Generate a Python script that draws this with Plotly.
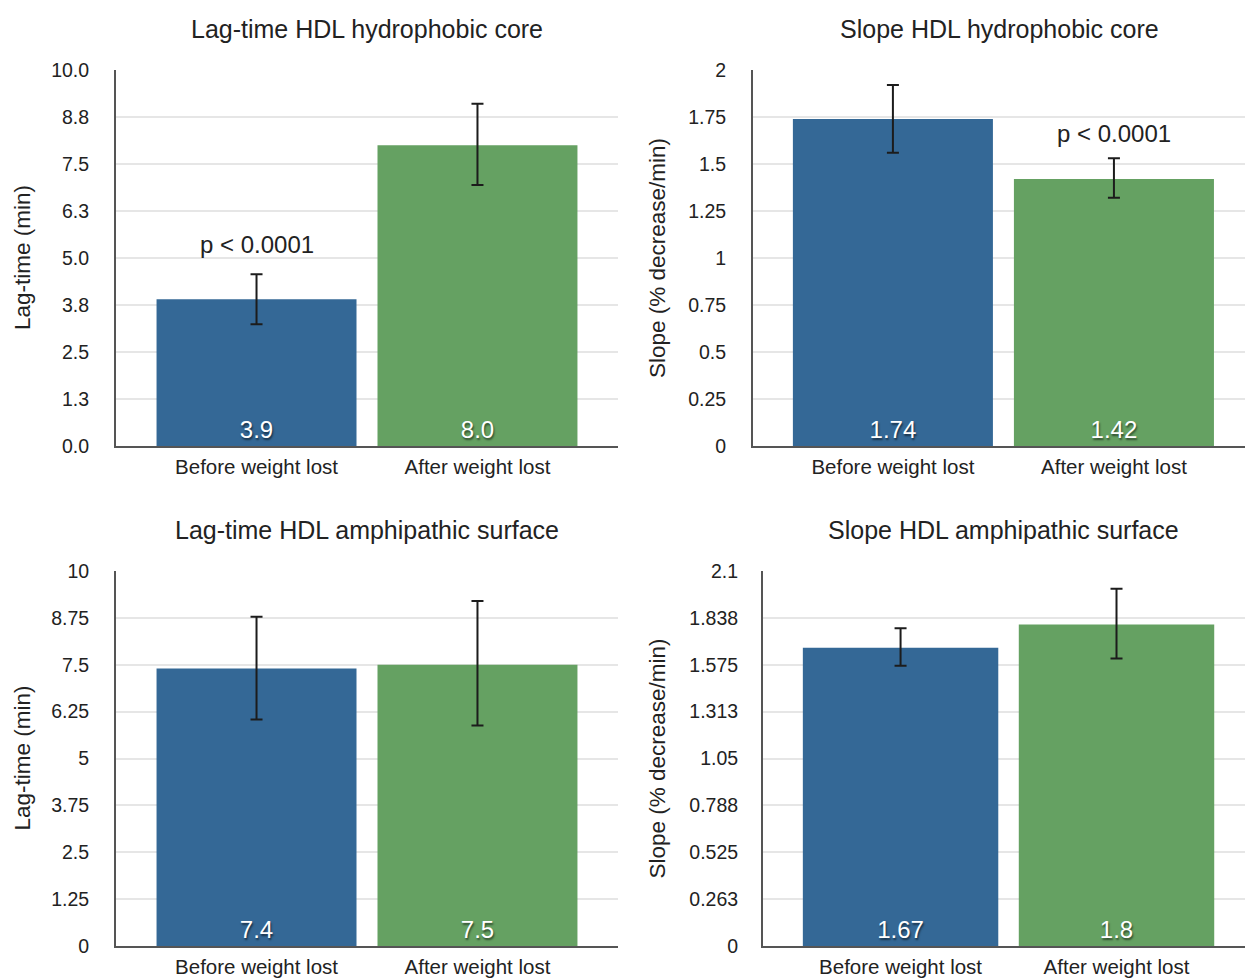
import plotly.graph_objects as go

W, H = 1245, 979

categories = ["Before weight lost", "After weight lost"]
colors_bar = ["#346896", "#65a162"]

titles = ["Lag-time HDL hydrophobic core", "Slope HDL hydrophobic core",
          "Lag-time HDL amphipathic surface", "Slope HDL amphipathic surface"]
ytitles = ["Lag-time (min)", "Slope (% decrease/min)",
           "Lag-time (min)", "Slope (% decrease/min)"]

lag_core = [3.9, 8.0]
lag_core_err_plus = [0.67, 1.1]
lag_core_err_minus = [0.66, 1.06]
lag_core_labels = ["3.9", "8.0"]

slope_core = [1.74, 1.42]
slope_core_err_plus = [0.18, 0.11]
slope_core_err_minus = [0.18, 0.10]
slope_core_labels = ["1.74", "1.42"]

lag_surf = [7.4, 7.5]
lag_surf_err_plus = [1.38, 1.7]
lag_surf_err_minus = [1.36, 1.62]
lag_surf_labels = ["7.4", "7.5"]

slope_surf = [1.67, 1.8]
slope_surf_err_plus = [0.11, 0.2]
slope_surf_err_minus = [0.1, 0.19]
slope_surf_labels = ["1.67", "1.8"]

ticks_lag_core = [0, 1.25, 2.5, 3.75, 5, 6.25, 7.5, 8.75, 10]
ticktext_lag_core = ["0.0", "1.3", "2.5", "3.8", "5.0", "6.3", "7.5", "8.8", "10.0"]
ticks_slope_core = [0, 0.25, 0.5, 0.75, 1, 1.25, 1.5, 1.75, 2]
ticktext_slope_core = ["0", "0.25", "0.5", "0.75", "1", "1.25", "1.5", "1.75", "2"]
ticks_lag_surf = [0, 1.25, 2.5, 3.75, 5, 6.25, 7.5, 8.75, 10]
ticktext_lag_surf = ["0", "1.25", "2.5", "3.75", "5", "6.25", "7.5", "8.75", "10"]
ticks_slope_surf = [0, 0.2625, 0.525, 0.7875, 1.05, 1.3125, 1.575, 1.8375, 2.1]
ticktext_slope_surf = ["0", "0.263", "0.525", "0.788", "1.05", "1.313", "1.575", "1.838", "2.1"]

pvalue_text = "p < 0.0001"

panels = [
    dict(v=lag_core, ep=lag_core_err_plus, em=lag_core_err_minus, lab=lag_core_labels,
         tv=ticks_lag_core, tt=ticktext_lag_core, yr=[0, 10],
         px=(116, 618), py=(70, 446), xr=[-0.636, 1.636], tl=21),
    dict(v=slope_core, ep=slope_core_err_plus, em=slope_core_err_minus, lab=slope_core_labels,
         tv=ticks_slope_core, tt=ticktext_slope_core, yr=[0, 2],
         px=(753, 1245), py=(70, 446), xr=[-0.633, 1.593], tl=21),
    dict(v=lag_surf, ep=lag_surf_err_plus, em=lag_surf_err_minus, lab=lag_surf_labels,
         tv=ticks_lag_surf, tt=ticktext_lag_surf, yr=[0, 10],
         px=(116, 618), py=(571, 946), xr=[-0.636, 1.636], tl=21),
    dict(v=slope_surf, ep=slope_surf_err_plus, em=slope_surf_err_minus, lab=slope_surf_labels,
         tv=ticks_slope_surf, tt=ticktext_slope_surf, yr=[0, 2.1],
         px=(763, 1245), py=(571, 946), xr=[-0.637, 1.595], tl=19),
]

FONT = "Liberation Sans, Arial, sans-serif"
TXT = "#222222"

fig = go.Figure()
layout = dict(
    width=W, height=H, margin=dict(l=0, r=0, t=0, b=0, autoexpand=False),
    paper_bgcolor="white", plot_bgcolor="white", showlegend=False,
    font=dict(family=FONT, color=TXT), bargap=0.095,
)
annotations = []

for i, p in enumerate(panels):
    n = "" if i == 0 else str(i + 1)
    xa, ya = "x" + n, "y" + n
    fig.add_trace(go.Bar(
        x=categories, y=p["v"], xaxis=xa, yaxis=ya,
        marker=dict(color=colors_bar, line=dict(width=0)),
        error_y=dict(type="data", array=p["ep"], arrayminus=p["em"], symmetric=False,
                     color="#1c1c1c", thickness=2, width=6),
        text=p["lab"], textposition="inside", insidetextanchor="start",
        textangle=0,
        textfont=dict(size=24, color="white", family=FONT,
                      shadow="1px 2px 2px rgba(0,0,0,0.55)"),
        cliponaxis=False, hoverinfo="skip",
    ))
    x0, x1 = p["px"]
    y0, y1 = p["py"]
    layout["xaxis" + n] = dict(
        domain=[x0 / W, x1 / W], anchor=ya, range=p["xr"], type="category",
        showline=True, linecolor="#555555", linewidth=2,
        showgrid=False, zeroline=False, ticks="outside", ticklen=1,
        tickcolor="rgba(0,0,0,0)", tickfont=dict(size=20.5, color=TXT, family=FONT),
        fixedrange=True,
    )
    layout["yaxis" + n] = dict(
        domain=[1 - y1 / H, 1 - y0 / H], anchor=xa, range=p["yr"],
        tickvals=p["tv"], ticktext=p["tt"],
        showline=True, linecolor="#555555", linewidth=2,
        showgrid=True, gridcolor="#e6e6e6", gridwidth=1.5, zeroline=False,
        ticks="outside", ticklen=p["tl"], tickcolor="rgba(0,0,0,0)",
        tickfont=dict(size=19.5, color=TXT, family=FONT), fixedrange=True,
    )
    annotations.append(dict(
        text=titles[i], xref="paper", yref="paper",
        x=(x0 + x1) / 2 / W, y=1 - (y0 - 41) / H, xanchor="center", yanchor="middle",
        showarrow=False, font=dict(size=25, color=TXT, family=FONT)))
    annotations.append(dict(
        text=ytitles[i], xref="paper", yref="paper", textangle=-90,
        x=(x0 - 94 if i % 2 == 0 else x0 - 96 if i == 1 else x0 - 106) / W,
        y=1 - (y0 + y1) / 2 / H, xanchor="center", yanchor="middle",
        showarrow=False, font=dict(size=22.5, color=TXT, family=FONT)))

# p-value annotations
annotations.append(dict(text=pvalue_text, xref="x", yref="y", x=categories[0], y=5.37,
                        showarrow=False, font=dict(size=24, color=TXT, family=FONT)))
annotations.append(dict(text=pvalue_text, xref="x2", yref="y2", x=categories[1], y=1.66,
                        showarrow=False, font=dict(size=24, color=TXT, family=FONT)))

layout["annotations"] = annotations
fig.update_layout(**layout)
fig.write_html("out.html", config={"displayModeBar": False},
               post_script="document.body.style.margin='0px';")
